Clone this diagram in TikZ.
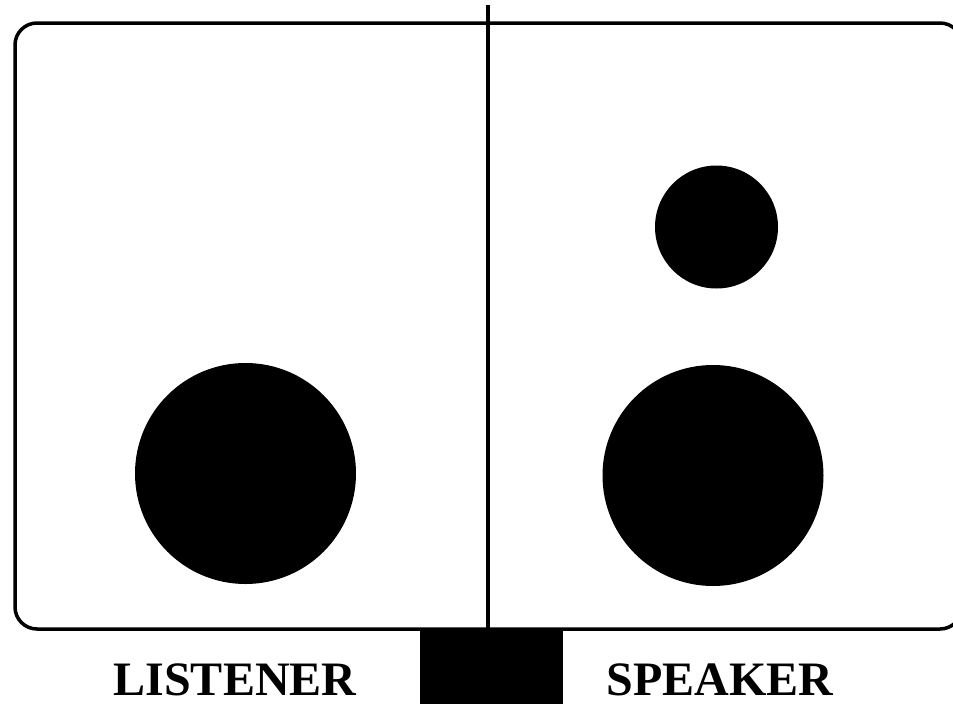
\documentclass[tikz,border=0pt]{standalone}
\usepackage{fontspec}
\setmainfont{Liberation Serif}
\begin{document}
\begin{tikzpicture}[x=1pt,y=-1pt,
  frame/.style={draw=black,line width=3.5pt,rounded corners=22pt},
  dot/.style={circle,fill=black,inner sep=0pt,minimum size=#1},
  label/.style={anchor=base,font=\bfseries\fontsize{48}{48}\selectfont,inner sep=0pt},
  divider/.style={draw=black,line width=3.5pt}]
\useasboundingbox (0,0) rectangle (953,704);
\clip (0,0) rectangle (953,704);
\fill[white] (0,0) rectangle (953,704);
\draw[frame] (15,23) rectangle (962,629);
\coordinate (top) at (488,5);
\coordinate (bot) at (488,629);
\draw[divider] (top) -- (bot);
\fill[black] (420,629) rectangle (563,706);
\node[dot=221pt] (lbig) at (245.5,473.5) {};
\node[dot=221pt] (rbig) at (713,475.5) {};
\node[dot=123pt] (rsmall) at (716.5,227) {};
\node[label] (listener) at (235,695) {LISTENER};
\node[label] (speaker) at (720,695) {SPEAKER};
\end{tikzpicture}
\end{document}
